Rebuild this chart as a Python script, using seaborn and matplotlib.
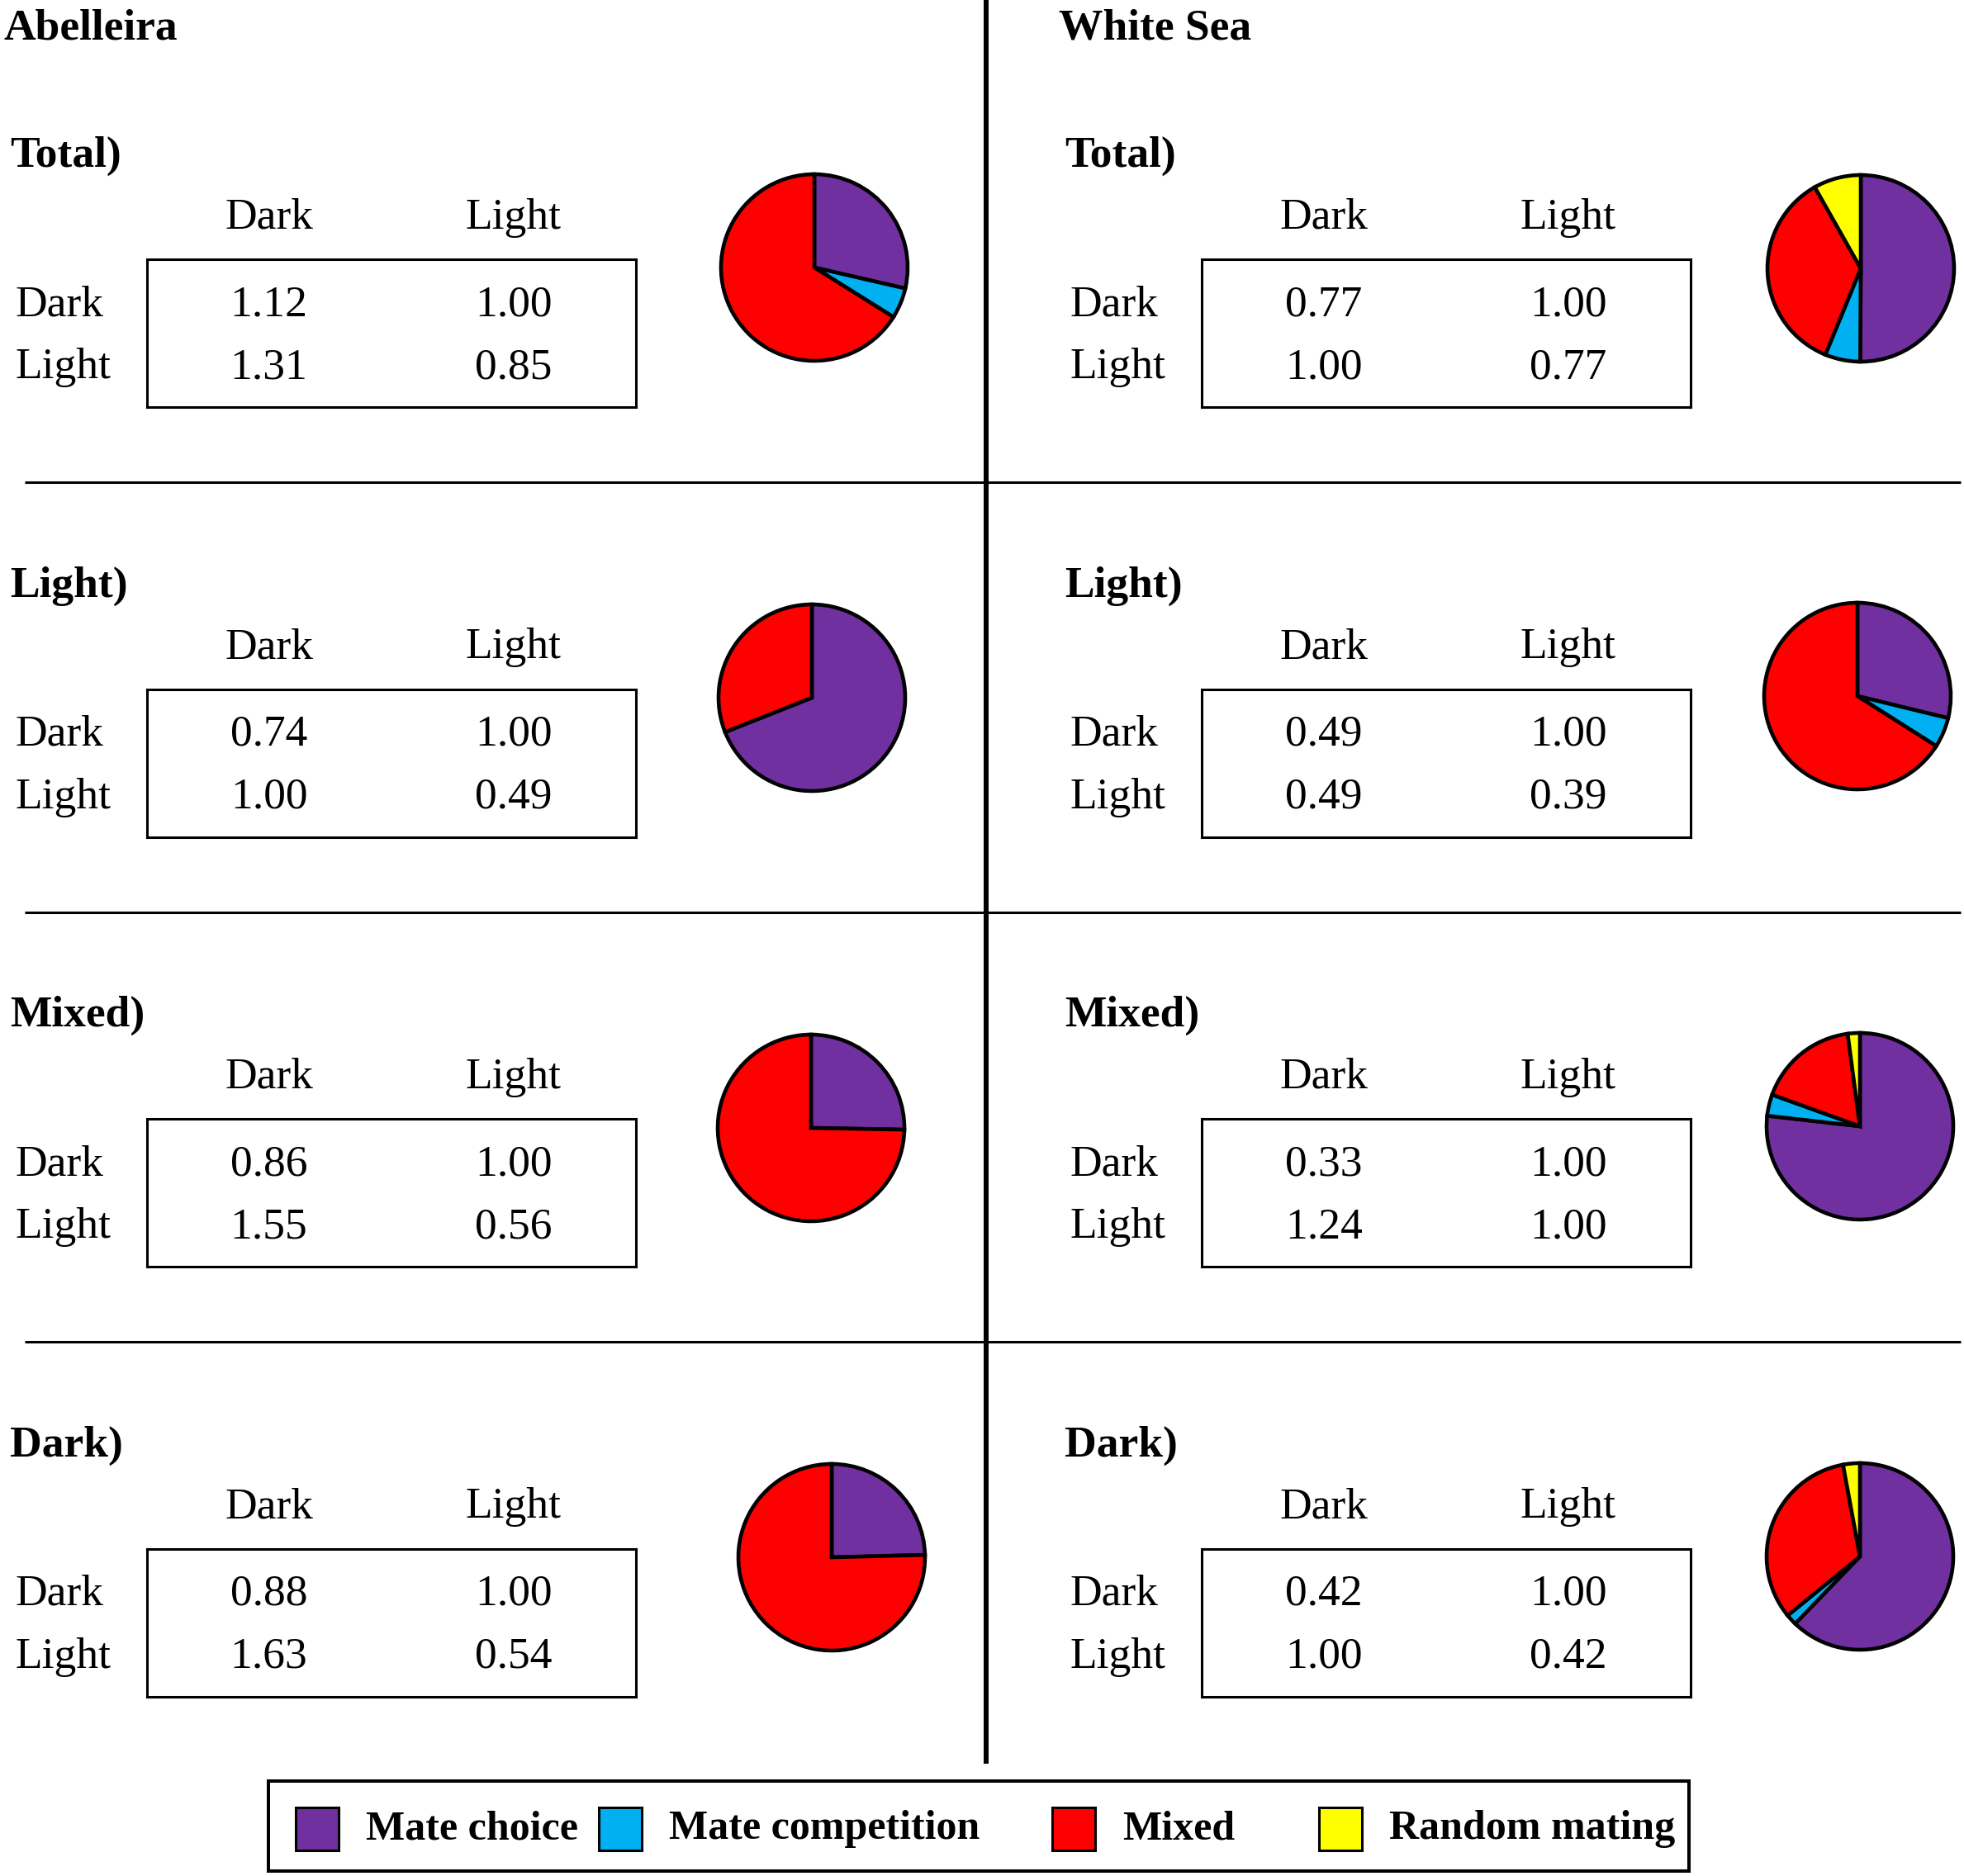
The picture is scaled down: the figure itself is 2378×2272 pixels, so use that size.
import numpy as np
import pandas as pd
import matplotlib
matplotlib.use("Agg")
import matplotlib.pyplot as plt
from matplotlib.colors import ListedColormap
from matplotlib.patches import Rectangle
import seaborn as sns

# ---------------- data ----------------
sites = ["Abelleira", "White Sea"]
treatments = ["Total)", "Light)", "Mixed)", "Dark)"]
morphs = ["Dark", "Light"]
mechanisms = ["Mate choice", "Mate competition", "Mixed", "Random mating"]
mech_colors = ["#7030A0", "#00B0F0", "#FF0000", "#FFFF00"]

abelleira_total = [[1.12, 1.00], [1.31, 0.85]]
abelleira_light = [[0.74, 1.00], [1.00, 0.49]]
abelleira_mixed = [[0.86, 1.00], [1.55, 0.56]]
abelleira_dark = [[0.88, 1.00], [1.63, 0.54]]
whitesea_total = [[0.77, 1.00], [1.00, 0.77]]
whitesea_light = [[0.49, 1.00], [0.49, 0.39]]
whitesea_mixed = [[0.33, 1.00], [1.24, 1.00]]
whitesea_dark = [[0.42, 1.00], [1.00, 0.42]]

# pie shares (%): mate choice, mate competition, mixed, random mating
abelleira_total_pie = [28.6, 5.3, 66.1, 0.0]
abelleira_light_pie = [69.0, 0.0, 31.0, 0.0]
abelleira_mixed_pie = [25.3, 0.0, 74.7, 0.0]
abelleira_dark_pie = [24.6, 0.0, 75.4, 0.0]
whitesea_total_pie = [50.1, 6.1, 35.6, 8.2]
whitesea_light_pie = [28.8, 5.2, 66.0, 0.0]
whitesea_mixed_pie = [76.8, 3.7, 17.4, 2.1]
whitesea_dark_pie = [62.2, 1.9, 33.0, 2.9]

tables = {
    "Abelleira": [abelleira_total, abelleira_light, abelleira_mixed, abelleira_dark],
    "White Sea": [whitesea_total, whitesea_light, whitesea_mixed, whitesea_dark],
}
pies = {
    "Abelleira": [abelleira_total_pie, abelleira_light_pie, abelleira_mixed_pie, abelleira_dark_pie],
    "White Sea": [whitesea_total_pie, whitesea_light_pie, whitesea_mixed_pie, whitesea_dark_pie],
}

# ---------------- layout (pixels) ----------------
W, H = 2378, 2272
site_dx = {"Abelleira": 0.0, "White Sea": 1277.5}
panel_dy = 520.5
pie_centers = {
    "Abelleira": [(986, 324), (983, 845), (982, 1366), (1007, 1886)],
    "White Sea": [(2253, 325), (2249, 843), (2252, 1364), (2252, 1885)],
}
pie_r = 113
box_x0, box_y0, box_w, box_h = 177.5, 314, 592, 179

sns.set_theme(style="white")
plt.rcParams["font.family"] = ["Liberation Serif", "DejaVu Serif"]

FS = 38.5
FS_LEG = 36

fig = plt.figure(figsize=(W / 100, H / 100), dpi=100)
fig.patch.set_facecolor("white")


def px_axes(x0, y0, w, h):
    return fig.add_axes([x0 / W, 1 - (y0 + h) / H, w / W, h / H])


base = px_axes(0, 0, W, H)
base.set_xlim(0, W)
base.set_ylim(H, 0)
base.axis("off")

# separators
base.vlines(1194, 0, 2136, color="black", lw=4.3)
base.hlines([584, 1104.5, 1625], 30, 2374, color="black", lw=2.2)

white_cmap = ListedColormap(["white"])

for site in sites:
    dx = site_dx[site]
    base.text(4.5 + dx, 48, site, fontsize=FS, fontweight="bold",
              ha="left", va="baseline", color="black")
    for i, tr in enumerate(treatments):
        dy = i * panel_dy
        base.text(12 + dx, 202 + dy, tr, fontsize=FS, fontweight="bold",
                  ha="left", va="baseline", color="black")

        # value table
        ax = px_axes(box_x0 + dx, box_y0 + dy, box_w, box_h)
        df = pd.DataFrame(tables[site][i], index=morphs, columns=morphs)
        sns.heatmap(df, ax=ax, cmap=white_cmap, cbar=False, annot=True, fmt=".2f",
                    annot_kws={"fontsize": FS, "color": "black"}, linewidths=0)
        # rows sit a little closer together than the cell centres of the box
        ax.set_ylim(2.131, -0.224)
        ax.xaxis.tick_top()
        ax.tick_params(axis="x", length=0, pad=19, labelsize=FS, top=True, bottom=False,
                       labeltop=True, labelbottom=False, colors="black")
        ax.tick_params(axis="y", length=0, pad=114.8, labelsize=FS, colors="black")
        plt.setp(ax.get_xticklabels(), rotation=0)
        plt.setp(ax.get_yticklabels(), rotation=0, ha="left")
        ax.set_xlabel("")
        ax.set_ylabel("")
        for sp in ax.spines.values():
            sp.set_visible(True)
            sp.set_linewidth(2.2)
            sp.set_color("black")

        # pie
        cx, cy = pie_centers[site][i]
        pax = px_axes(cx - pie_r, cy - pie_r, 2 * pie_r, 2 * pie_r)
        vals = pies[site][i]
        keep = [k for k, v in enumerate(vals) if v > 0]
        pax.pie([vals[k] for k in keep], colors=[mech_colors[k] for k in keep],
                startangle=90, counterclock=False, radius=1.0,
                wedgeprops={"edgecolor": "black", "linewidth": 3.3, "clip_on": False})
        pax.set_xlim(-1, 1)
        pax.set_ylim(-1, 1)
        pax.set_aspect("equal")
        pax.axis("off")

# legend
base.add_patch(Rectangle((325, 2157), 1720, 109, fill=False, edgecolor="black", lw=2.9))
leg_square_x = [358, 725, 1274, 1597]
leg_text_x = [443, 810, 1359, 1682]
for k, name in enumerate(mechanisms):
    base.add_patch(Rectangle((leg_square_x[k], 2189), 52, 52, facecolor=mech_colors[k],
                             edgecolor="black", lw=2.2))
    base.text(leg_text_x[k], 2215, name, fontsize=FS_LEG, fontweight="bold",
              ha="left", va="center", color="black")

fig.savefig("out.png", dpi=100, facecolor="white")
